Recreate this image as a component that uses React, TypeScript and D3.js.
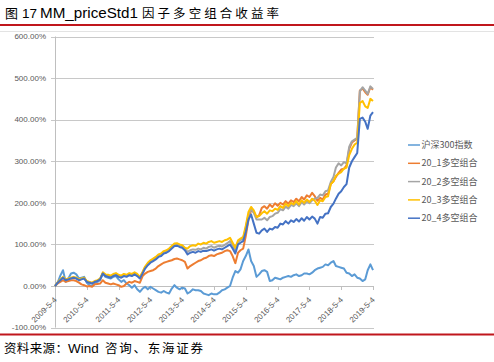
import React from "react";
import * as d3 from "d3";

const WIDTH = 494;
const HEIGHT = 362;

// monthly samples, 2009-5 .. 2019-5 (121 points), cumulative return in %
const startDate = new Date(2009, 4, 4);
const dates = d3.range(121).map((i) => d3.timeMonth.offset(startDate, i));

const hs300 = [
  0, 8, 25, 38, 10, 18, 30, 32, 28, 18, 20, 22, 8, 2, 0, 8, 10, 14, 30, 22,
  20, 18, 22, 24, 16, 10, 14, 6, 2, -4, 2, -8, -14, -6, -2, -8, -2, -6, -10, -14,
  -16, -12, -16, -18, -6, 2, -4, -8, -4, -6, -18, -14, -8, -10, -10, -12, -18, -20, -22, -18,
  -20, -20, -16, -10, -8, -4, 0, 20, 36, 32, 40, 60, 72, 88, 60, 48, 22, 28, 36, 38,
  34, 12, 14, 20, 18, 16, 20, 22, 24, 22, 26, 28, 24, 26, 30, 30, 28, 32, 38, 42,
  44, 46, 52, 50, 56, 60, 48, 46, 44, 42, 32, 30, 24, 28, 20, 18, 12, 16, 38, 52,
  38,
];

const ls1 = [
  0, 6, 10, 14, 10, 12, 14, 14, 12, 8, 4, 2, -1, 0, -2, 4, 5, 6, 14, 8,
  6, 4, 6, 4, 2, -2, 0, 6, 10, 8, 12, 10, 8, 24, 30, 34, 36, 38, 42, 48,
  52, 56, 58, 60, 62, 65, 66, 64, 62, 58, 42, 48, 52, 56, 60, 62, 66, 68, 72, 74,
  72, 76, 78, 80, 84, 86, 84, 72, 55, 80, 86, 90, 120, 160, 182, 178, 165, 170, 188, 192,
  186, 196, 190, 199, 193, 200, 196, 204, 198, 206, 202, 210, 204, 214, 208, 218, 214, 224, 216, 205,
  212, 208, 220, 222, 245, 252, 262, 272, 280, 282, 290, 330, 345, 350, 355, 470, 475, 466, 460, 478,
  472,
];

const ls2 = [
  0, 9, 15, 21, 15, 17, 19, 21, 19, 15, 17, 19, 11, 9, 7, 11, 13, 17, 31, 26,
  24, 22, 26, 28, 24, 22, 26, 24, 28, 26, 30, 26, 20, 33, 45, 53, 60, 64, 68, 74,
  76, 82, 84, 88, 94, 100, 101, 98, 96, 90, 82, 86, 88, 87, 90, 88, 92, 90, 94, 96,
  92, 95, 97, 95, 99, 103, 108, 98, 86, 106, 110, 114, 140, 172, 185, 176, 160, 160, 160, 164,
  158, 166, 168, 174, 176, 185, 182, 191, 186, 195, 192, 199, 192, 202, 196, 204, 199, 206, 210, 212,
  220, 218, 228, 230, 250, 262, 285, 295, 290, 298, 295, 335, 348, 352, 356, 468, 478, 470, 462, 480,
  474,
];

const ls3 = [
  0, 9, 16, 22, 16, 18, 20, 22, 20, 16, 18, 20, 12, 10, 8, 12, 14, 18, 33, 28,
  27, 25, 29, 31, 27, 25, 29, 27, 31, 29, 33, 29, 22, 34, 47, 56, 62, 66, 70, 76,
  78, 84, 86, 90, 96, 102, 103, 100, 98, 92, 90, 96, 98, 97, 102, 100, 104, 102, 106, 108,
  104, 106, 108, 106, 110, 112, 116, 104, 92, 110, 114, 118, 145, 178, 190, 182, 166, 168, 175, 180,
  174, 182, 180, 186, 183, 192, 188, 198, 192, 200, 196, 204, 196, 206, 200, 208, 202, 210, 205, 195,
  206, 204, 214, 216, 245, 252, 265, 270, 274, 282, 285, 315, 330, 340, 345, 440, 445, 432, 428, 450,
  445,
];

const ls4 = [
  0, 8, 14, 20, 14, 16, 18, 20, 18, 14, 16, 18, 10, 8, 6, 10, 12, 16, 30, 24,
  22, 20, 24, 26, 22, 20, 24, 22, 26, 24, 28, 24, 18, 30, 42, 50, 56, 60, 64, 70,
  72, 78, 80, 84, 90, 96, 97, 94, 92, 86, 76, 80, 82, 80, 84, 82, 85, 84, 86, 88,
  85, 88, 90, 88, 92, 96, 100, 90, 78, 100, 104, 108, 130, 160, 172, 150, 128, 126, 134, 138,
  130, 138, 136, 142, 140, 150, 148, 156, 150, 158, 154, 161, 155, 163, 157, 166, 160, 167, 162, 150,
  166, 164, 174, 175, 190, 198, 210, 222, 228, 238, 245, 285, 300, 310, 320, 402, 405, 395, 378, 410,
  418,
];

const seriesNames = ["沪深300指数", "20_1多空组合", "20_2多空组合", "20_3多空组合", "20_4多空组合"];
const seriesColors = ["#5B9BD5", "#ED7D31", "#A5A5A5", "#FFC000", "#4472C4"];
const seriesValues = [hs300, ls1, ls2, ls3, ls4];

const yTicks = [-100, 0, 100, 200, 300, 400, 500, 600];
const xTickLabels = [
  "2009-5-4", "2010-5-4", "2011-5-4", "2012-5-4", "2013-5-4", "2014-5-4",
  "2015-5-4", "2016-5-4", "2017-5-4", "2018-5-4", "2019-5-4",
];

const CJK = "'Noto Sans CJK SC', sans-serif";
const LATIN = "'Liberation Sans', Arial, sans-serif";

export default function App() {
  const x = d3
    .scaleTime()
    .domain([dates[0], dates[dates.length - 1]])
    .range([55, 373]);
  const y = d3.scaleLinear().domain([-100, 600]).range([327.6, 36.5]);

  const line = d3
    .line<number>()
    .x((_, i) => x(dates[i]))
    .y((d) => y(d));

  const tickDates = xTickLabels.map((s) => {
    const [yy, mm, dd] = s.split("-").map(Number);
    return new Date(yy, mm - 1, dd);
  });

  return (
    <svg
      width={WIDTH}
      height={HEIGHT}
      style={{ position: "absolute", left: 0, top: 0, background: "#fff" }}
    >
      {/* title */}
      <text y={18} fill="#000">
        <tspan x={5} fontFamily={CJK} fontSize={13}>图</tspan>
        <tspan x={22} fontFamily={LATIN} fontSize={13.5}>17</tspan>
        <tspan x={40} fontFamily={LATIN} fontSize={14.5} textLength={98} lengthAdjust="spacingAndGlyphs">
          MM_priceStd1
        </tspan>
        <tspan x={142} fontFamily={CJK} fontSize={12.5} textLength={137} lengthAdjust="spacing">
          因子多空组合收益率
        </tspan>
      </text>
      <line x1={0} x2={WIDTH} y1={25} y2={25} stroke="#C0161C" strokeWidth={2} />
      <line x1={0} x2={WIDTH} y1={31.5} y2={31.5} stroke="#E3E3E3" strokeWidth={1} />

      {/* grid + y axis */}
      {yTicks.map((t) => (
        <g key={t}>
          <line
            x1={51}
            x2={374}
            y1={Math.round(y(t)) + 0.5}
            y2={Math.round(y(t)) + 0.5}
            stroke={t === 0 ? "#BFBFBF" : "#C8C8C8"}
          />
          <text
            x={46}
            y={y(t)}
            dy="0.35em"
            textAnchor="end"
            fontFamily={LATIN}
            fontSize={8}
            fill="#595959"
          >
            {t.toFixed(2)}%
          </text>
        </g>
      ))}
      <line x1={55.5} x2={55.5} y1={y(600)} y2={y(-100)} stroke="#BFBFBF" />

      {/* x ticks + labels */}
      {tickDates.map((d, i) => (
        <g key={xTickLabels[i]}>
          <line
            x1={Math.round(x(d)) + 0.5}
            x2={Math.round(x(d)) + 0.5}
            y1={y(0)}
            y2={y(0) + 4}
            stroke="#BFBFBF"
          />
          <text
            transform={`translate(${x(d) - 1},${y(0) + 11}) rotate(-45)`}
            textAnchor="end"
            dy="0.6em"
            fontFamily={LATIN}
            fontSize={8}
            fill="#595959"
          >
            {xTickLabels[i]}
          </text>
        </g>
      ))}

      {/* series */}
      {seriesValues.map((vals, i) => (
        <path
          key={seriesNames[i]}
          d={line(vals) || ""}
          fill="none"
          stroke={seriesColors[i]}
          strokeWidth={2}
          strokeLinejoin="round"
        />
      ))}

      {/* legend */}
      {seriesNames.map((name, i) => {
        const ly = 145 + i * 18.3;
        return (
          <g key={name}>
            <line x1={408} x2={420} y1={ly} y2={ly} stroke={seriesColors[i]} strokeWidth={1.5} />
            <text
              x={421.5}
              y={ly}
              dy="0.35em"
              fontFamily={CJK}
              fontSize={9}
              fill="#595959"
            >
              {name}
            </text>
          </g>
        );
      })}

      {/* source */}
      <line x1={0} x2={WIDTH} y1={334.5} y2={334.5} stroke="#C0161C" strokeWidth={2} />
      <text y={353} fill="#000">
        <tspan x={4} fontFamily={CJK} fontSize={12.5} textLength={64} lengthAdjust="spacing">
          资料来源：
        </tspan>
        <tspan x={68} fontFamily={LATIN} fontSize={13.5}>Wind</tspan>
        <tspan x={105} fontFamily={CJK} fontSize={12.5} textLength={98} lengthAdjust="spacing">
          咨询、东海证券
        </tspan>
      </text>
    </svg>
  );
}
